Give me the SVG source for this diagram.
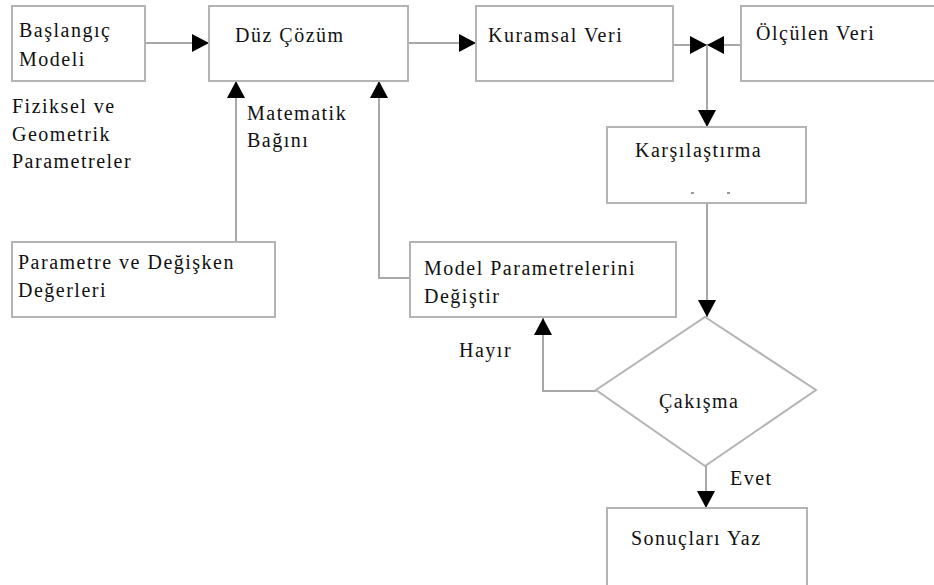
<svg xmlns="http://www.w3.org/2000/svg" width="934" height="585" viewBox="0 0 934 585">
<style>
.box{fill:#fff;stroke:#b4b4b4;stroke-width:2}
.t{font-family:'Liberation Serif',serif;font-size:20px;fill:#111;letter-spacing:1.5px}
.c{fill:none;stroke:#a8a8a8;stroke-width:2}
</style>
<defs>
<marker id="ah" markerWidth="17" markerHeight="18" refX="17" refY="9" orient="auto" markerUnits="userSpaceOnUse"><path d="M0,0 L17,9 L0,18 z" fill="#000"/></marker>
</defs>
<rect width="934" height="585" fill="#fff"/>
<g id="connectors">
<path class="c" d="M145,43 H209" marker-end="url(#ah)"/>
<path class="c" d="M408,43 H476" marker-end="url(#ah)"/>
<path class="c" d="M673,45 H707" marker-end="url(#ah)"/>
<path class="c" d="M741,45 H707" marker-end="url(#ah)"/>
<path class="c" d="M707,45 V127" marker-end="url(#ah)"/>
<path class="c" d="M707,203 V317" marker-end="url(#ah)"/>
<path class="c" d="M706,466 V508" marker-end="url(#ah)"/>
<path class="c" d="M596,391 H543 V318" marker-end="url(#ah)"/>
<path class="c" d="M236,242 V81" marker-end="url(#ah)"/>
<path class="c" d="M410,278 H379 V81" marker-end="url(#ah)"/>
</g>
<g id="baslangic">
<rect class="box" x="12" y="6" width="133" height="75"/>
<text class="t" x="19" y="37">Başlangıç</text>
<text class="t" x="19" y="66">Modeli</text>
</g>
<g id="fiziksel">
<text class="t" x="12" y="113">Fiziksel ve</text>
<text class="t" x="12" y="141">Geometrik</text>
<text class="t" x="12" y="168">Parametreler</text>
</g>
<g id="duz">
<rect class="box" x="209" y="6" width="199" height="75"/>
<text class="t" x="235" y="42">Düz Çözüm</text>
</g>
<g id="matematik">
<text class="t" x="247" y="120">Matematik</text>
<text class="t" x="247" y="147">Bağını</text>
</g>
<g id="kuramsal">
<rect class="box" x="476" y="6" width="197" height="75"/>
<text class="t" x="488" y="42">Kuramsal Veri</text>
</g>
<g id="olculen">
<rect class="box" x="741" y="6" width="200" height="75"/>
<text class="t" x="756" y="40">Ölçülen Veri</text>
</g>
<g id="karsilastirma">
<rect class="box" x="607" y="127" width="199" height="76"/>
<text class="t" x="635" y="157">Karşılaştırma</text>
<path d="M691,193 h3 M727,193 h3" stroke="#777" stroke-width="1.5"/>
</g>
<g id="parametre">
<rect class="box" x="12" y="242" width="263" height="75"/>
<text class="t" x="18" y="269">Parametre ve Değişken</text>
<text class="t" x="18" y="297">Değerleri</text>
</g>
<g id="model">
<rect class="box" x="410" y="242" width="266" height="75"/>
<text class="t" x="424" y="275">Model Parametrelerini</text>
<text class="t" x="424" y="303">Değiştir</text>
</g>
<g id="hayir">
<text class="t" x="459" y="357">Hayır</text>
</g>
<g id="cakisma">
<polygon class="box" points="705,317 816,390 705,466 596,390"/>
<text class="t" x="659" y="408">Çakışma</text>
</g>
<g id="evet">
<text class="t" x="730" y="485">Evet</text>
</g>
<g id="sonuclar">
<rect class="box" x="607" y="508" width="200" height="80"/>
<text class="t" x="631" y="545">Sonuçları Yaz</text>
</g>
</svg>
